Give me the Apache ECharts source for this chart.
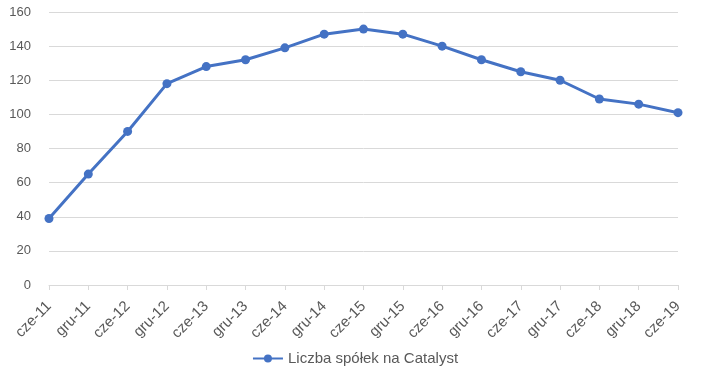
<!DOCTYPE html>
<html>
<head>
<meta charset="utf-8">
<script src="https://cdn.jsdelivr.net/npm/echarts@6/dist/echarts.min.js"></script>
<style>html,body{margin:0;padding:0;background:#fff;}#c{width:710px;height:374px;}</style>
</head>
<body>
<div id="c"></div>
<script>
const categories = ['cze-11','gru-11','cze-12','gru-12','cze-13','gru-13','cze-14','gru-14','cze-15','gru-15','cze-16','gru-16','cze-17','gru-17','cze-18','gru-18','cze-19'];
const values = [39, 65, 90, 118, 128, 132, 139, 147, 150, 147, 140, 132, 125, 120, 109, 106, 101];
const seriesName = 'Liczba spółek na Catalyst';

const chart = echarts.init(document.getElementById('c'));
chart.setOption({
  animation: false,
  textStyle: { fontFamily: 'Liberation Sans' },
  grid: { left: 49, right: 32, top: 12, bottom: 89 },
  legend: {
    bottom: 3, left: 'center',
    itemWidth: 30, itemHeight: 10,
    textStyle: { color: '#595959', fontSize: 15, fontFamily: 'Liberation Sans' },
    data: [seriesName]
  },
  xAxis: {
    type: 'category',
    data: categories,
    boundaryGap: false,
    axisLine: { lineStyle: { color: '#d9d9d9' } },
    axisTick: { show: true, length: 5, lineStyle: { color: '#d9d9d9' } },
    axisLabel: { rotate: 45, color: '#595959', fontSize: 15, margin: 19, interval: 0 },
    splitLine: { show: false }
  },
  yAxis: {
    type: 'value',
    min: 0, max: 160, interval: 20,
    axisLine: { show: false },
    axisTick: { show: false },
    axisLabel: { color: '#595959', fontSize: 13, margin: 18 },
    splitLine: { lineStyle: { color: '#d9d9d9' } }
  },
  series: [{
    name: seriesName,
    type: 'line',
    data: values,
    symbol: 'circle',
    symbolSize: 9,
    itemStyle: { color: '#4472C4' },
    lineStyle: { color: '#4472C4', width: 3 }
  }]
});
</script>
</body>
</html>
